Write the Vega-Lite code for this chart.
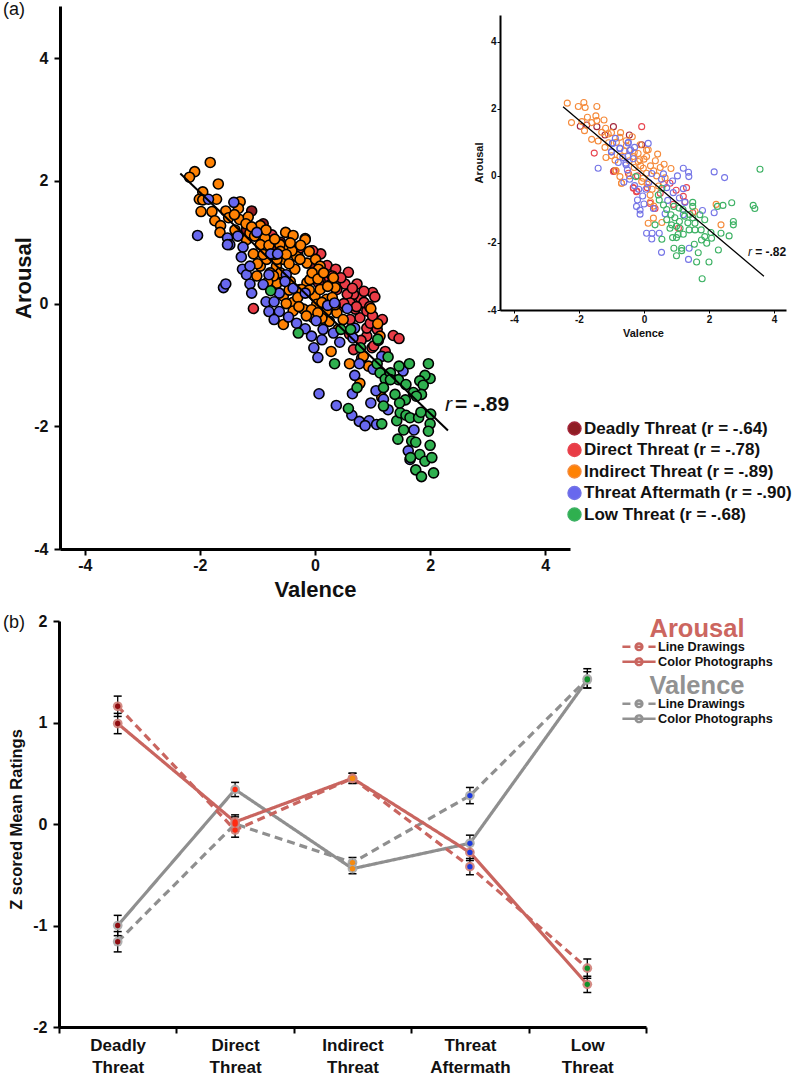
{"$schema":"https://vega.github.io/schema/vega-lite/v6.json","width":800,"height":1080,"padding":0,"autosize":{"type":"none"},"background":"white",
"config":{"view":{"stroke":null},"font":"Liberation Sans","axis":{"grid":false,"domainColor":"black","tickColor":"black","labelColor":"#111","titleColor":"#111","labelFontWeight":"bold","titleFontWeight":"bold","labelFont":"Liberation Sans","titleFont":"Liberation Sans"},"legend":{"labelFont":"Liberation Sans","titleFont":"Liberation Sans"}},
"datasets":{
"main":[
{"threat":"Deadly","x":-1.1,"y":1.51},{"threat":"Deadly","x":-1.19,"y":1.2},{"threat":"Deadly","x":-0.9,"y":1.3},{"threat":"Deadly","x":-0.6,"y":1.0},{"threat":"Deadly","x":-0.3,"y":0.8},{"threat":"Deadly","x":0,"y":0.6},{"threat":"Deadly","x":0.3,"y":0.3},{"threat":"Deadly","x":-0.7,"y":0.9},
{"threat":"Direct","x":0.58,"y":0.51},{"threat":"Direct","x":0.73,"y":0.32},{"threat":"Direct","x":0.21,"y":0.62},{"threat":"Direct","x":0.36,"y":0.56},{"threat":"Direct","x":0.1,"y":0.81},{"threat":"Direct","x":-0.06,"y":0.86},{"threat":"Direct","x":-0.26,"y":0.91},{"threat":"Direct","x":0.52,"y":0.32},{"threat":"Direct","x":1.0,"y":0.18},{"threat":"Direct","x":1.04,"y":0.11},{"threat":"Direct","x":0.79,"y":0.09},{"threat":"Direct","x":0.67,"y":0.15},{"threat":"Direct","x":0.56,"y":0.15},{"threat":"Direct","x":0.61,"y":0.01},{"threat":"Direct","x":0.78,"y":-0.23},{"threat":"Direct","x":0.61,"y":-0.26},{"threat":"Direct","x":1.17,"y":-0.26},{"threat":"Direct","x":1.36,"y":-0.52},{"threat":"Direct","x":1.46,"y":-0.57},{"threat":"Direct","x":0.9,"y":-0.53},{"threat":"Direct","x":0.99,"y":-0.72},{"threat":"Direct","x":0.67,"y":-0.75},{"threat":"Direct","x":0.81,"y":-0.89},{"threat":"Direct","x":1.22,"y":-0.78},{"threat":"Direct","x":0.9,"y":-0.4},{"threat":"Direct","x":0.17,"y":0.44},{"threat":"Direct","x":0.09,"y":0.36},{"threat":"Direct","x":0.38,"y":0.23},{"threat":"Direct","x":0.46,"y":-0.04},{"threat":"Direct","x":0.9,"y":-0.12},{"threat":"Direct","x":0.7,"y":-0.09},{"threat":"Direct","x":1.02,"y":-0.69},{"threat":"Direct","x":0.96,"y":-0.32},{"threat":"Direct","x":-0.75,"y":1.12},{"threat":"Direct","x":-0.26,"y":0.91},{"threat":"Direct","x":-0.04,"y":0.86},{"threat":"Direct","x":-1.07,"y":-0.08},{"threat":"Direct","x":0.06,"y":0.34},{"threat":"Direct","x":0.3,"y":0.45},{"threat":"Direct","x":0.45,"y":0.42},{"threat":"Direct","x":0.65,"y":0.25},{"threat":"Direct","x":0.85,"y":0.02},{"threat":"Direct","x":0.95,"y":-0.05},{"threat":"Direct","x":1.0,"y":-0.2},{"threat":"Direct","x":1.08,"y":-0.42},{"threat":"Direct","x":1.1,"y":-0.6},{"threat":"Direct","x":0.8,"y":-0.6},{"threat":"Direct","x":0.6,"y":-0.5},{"threat":"Direct","x":0.5,"y":0.0},{"threat":"Direct","x":0.72,"y":-0.05},{"threat":"Direct","x":0.85,"y":0.2},
{"threat":"Indirect","x":-1.82,"y":2.3},{"threat":"Indirect","x":-2.09,"y":2.15},{"threat":"Indirect","x":-2.18,"y":2.06},{"threat":"Indirect","x":-1.68,"y":1.95},{"threat":"Indirect","x":-1.95,"y":1.82},{"threat":"Indirect","x":-2.01,"y":1.7},{"threat":"Indirect","x":-1.95,"y":1.69},{"threat":"Indirect","x":-1.71,"y":1.7},{"threat":"Indirect","x":-1.98,"y":1.5},{"threat":"Indirect","x":-1.79,"y":1.5},{"threat":"Indirect","x":-1.55,"y":1.51},{"threat":"Indirect","x":-1.3,"y":1.66},{"threat":"Indirect","x":-1.33,"y":1.55},{"threat":"Indirect","x":-1.31,"y":1.37},{"threat":"Indirect","x":-1.74,"y":1.35},{"threat":"Indirect","x":-1.64,"y":1.27},{"threat":"Indirect","x":-1.65,"y":1.16},{"threat":"Indirect","x":-1.16,"y":1.41},{"threat":"Indirect","x":-0.95,"y":1.27},{"threat":"Indirect","x":-1.39,"y":1.2},{"threat":"Indirect","x":-0.87,"y":1.07},{"threat":"Indirect","x":-0.51,"y":1.16},{"threat":"Indirect","x":-0.38,"y":1.11},{"threat":"Indirect","x":-0.17,"y":1.06},{"threat":"Indirect","x":-0.95,"y":0.96},{"threat":"Indirect","x":-1.07,"y":0.81},{"threat":"Indirect","x":-0.62,"y":0.97},{"threat":"Indirect","x":-0.41,"y":0.86},{"threat":"Indirect","x":-0.55,"y":0.72},{"threat":"Indirect","x":-0.35,"y":0.56},{"threat":"Indirect","x":-0.14,"y":0.66},{"threat":"Indirect","x":-0.95,"y":0.61},{"threat":"Indirect","x":0.01,"y":0.72},{"threat":"Indirect","x":-0.14,"y":0.34},{"threat":"Indirect","x":-0.38,"y":0.02},{"threat":"Indirect","x":-0.2,"y":-0.09},{"threat":"Indirect","x":0,"y":0.12},{"threat":"Indirect","x":0.03,"y":-0.01},{"threat":"Indirect","x":-0.67,"y":0.61},{"threat":"Indirect","x":-0.49,"y":0.93},{"threat":"Indirect","x":-0.84,"y":0.72},{"threat":"Indirect","x":-1.19,"y":1.04},{"threat":"Indirect","x":-1.01,"y":0.45},{"threat":"Indirect","x":-0.26,"y":0.23},{"threat":"Indirect","x":-0.09,"y":0.39},{"threat":"Indirect","x":0.09,"y":0.61},{"threat":"Indirect","x":-0.32,"y":0.77},{"threat":"Indirect","x":-0.78,"y":0.5},{"threat":"Indirect","x":-0.67,"y":0.34},{"threat":"Indirect","x":-1.13,"y":1.15},{"threat":"Indirect","x":-0.61,"y":0.96},{"threat":"Indirect","x":-0.4,"y":0.86},{"threat":"Indirect","x":0.06,"y":0.56},{"threat":"Indirect","x":0.32,"y":0.42},{"threat":"Indirect","x":0.35,"y":0.26},{"threat":"Indirect","x":0.2,"y":0.07},{"threat":"Indirect","x":0.38,"y":-0.15},{"threat":"Indirect","x":0.25,"y":-0.29},{"threat":"Indirect","x":-0.03,"y":-0.23},{"threat":"Indirect","x":0.97,"y":-0.08},{"threat":"Indirect","x":1.09,"y":-0.33},{"threat":"Indirect","x":0.28,"y":-0.78},{"threat":"Indirect","x":0.6,"y":-0.98},{"threat":"Indirect","x":0.93,"y":-1.02},{"threat":"Indirect","x":0.78,"y":-1.3},{"threat":"Indirect","x":1.16,"y":-1.53},{"threat":"Indirect","x":-0.55,"y":-0.34},{"threat":"Indirect","x":-0.43,"y":0.99},{"threat":"Indirect","x":-0.17,"y":1.04},{"threat":"Indirect","x":-0.26,"y":0.72},{"threat":"Indirect","x":0.09,"y":0.23},{"threat":"Indirect","x":0.49,"y":-0.26},{"threat":"Indirect","x":0.2,"y":-0.12},{"threat":"Indirect","x":1.13,"y":-0.53},{"threat":"Indirect","x":0.84,"y":-0.86},{"threat":"Indirect","x":-0.66,"y":0.33},{"threat":"Indirect","x":-0.43,"y":0.36},{"threat":"Indirect","x":-0.23,"y":0.23},{"threat":"Indirect","x":-0.55,"y":0.12},{"threat":"Indirect","x":-0.38,"y":-0.12},{"threat":"Indirect","x":-0.66,"y":0.72},{"threat":"Indirect","x":-0.06,"y":-0.1},{"threat":"Indirect","x":0.12,"y":-0.24},{"threat":"Indirect","x":-1.5,"y":1.4},{"threat":"Indirect","x":-1.4,"y":1.45},{"threat":"Indirect","x":-1.2,"y":1.3},{"threat":"Indirect","x":-1.1,"y":1.25},{"threat":"Indirect","x":-1.05,"y":1.1},{"threat":"Indirect","x":-0.85,"y":1.2},{"threat":"Indirect","x":-0.8,"y":0.95},{"threat":"Indirect","x":-0.7,"y":1.05},{"threat":"Indirect","x":-0.7,"y":0.8},{"threat":"Indirect","x":-0.6,"y":0.85},{"threat":"Indirect","x":-0.5,"y":0.8},{"threat":"Indirect","x":-0.45,"y":0.65},{"threat":"Indirect","x":-0.25,"y":0.95},{"threat":"Indirect","x":-0.1,"y":0.85},{"threat":"Indirect","x":-0.05,"y":0.5},{"threat":"Indirect","x":0.05,"y":0.4},{"threat":"Indirect","x":0.15,"y":0.5},{"threat":"Indirect","x":0.22,"y":0.28},{"threat":"Indirect","x":0.3,"y":0.1},{"threat":"Indirect","x":0.12,"y":0.02},{"threat":"Indirect","x":-0.1,"y":0.22},{"threat":"Indirect","x":-0.3,"y":0.1},{"threat":"Indirect","x":-0.45,"y":0.22},{"threat":"Indirect","x":-0.6,"y":0.5},{"threat":"Indirect","x":-0.9,"y":0.8},{"threat":"Indirect","x":-1.0,"y":0.65},{"threat":"Indirect","x":0.35,"y":-0.02},{"threat":"Indirect","x":-0.15,"y":-0.2},{"threat":"Indirect","x":-0.28,"y":-0.05},{"threat":"Indirect","x":0.05,"y":-0.15},{"threat":"Indirect","x":-0.5,"y":0},{"threat":"Indirect","x":-0.72,"y":0.45},{"threat":"Indirect","x":-0.82,"y":0.35},{"threat":"Indirect","x":0.4,"y":-0.42},
{"threat":"Aftermath","x":-1.85,"y":1.7},{"threat":"Aftermath","x":-1.41,"y":1.65},{"threat":"Aftermath","x":-2.04,"y":1.11},{"threat":"Aftermath","x":-1.52,"y":1.07},{"threat":"Aftermath","x":-1.48,"y":0.96},{"threat":"Aftermath","x":-1.52,"y":0.96},{"threat":"Aftermath","x":-1.34,"y":1.1},{"threat":"Aftermath","x":-1.01,"y":1.16},{"threat":"Aftermath","x":-1.25,"y":0.92},{"threat":"Aftermath","x":-1.28,"y":0.76},{"threat":"Aftermath","x":-0.77,"y":0.81},{"threat":"Aftermath","x":-0.65,"y":0.81},{"threat":"Aftermath","x":-1.26,"y":0.56},{"threat":"Aftermath","x":-1.19,"y":0.47},{"threat":"Aftermath","x":-1.13,"y":0.61},{"threat":"Aftermath","x":-0.8,"y":0.47},{"threat":"Aftermath","x":-0.5,"y":0.47},{"threat":"Aftermath","x":-0.52,"y":0.36},{"threat":"Aftermath","x":-1.13,"y":0.32},{"threat":"Aftermath","x":-1.59,"y":0.26},{"threat":"Aftermath","x":-1.55,"y":0.32},{"threat":"Aftermath","x":-0.9,"y":0.31},{"threat":"Aftermath","x":-0.38,"y":0.25},{"threat":"Aftermath","x":-0.17,"y":0.17},{"threat":"Aftermath","x":-1.1,"y":0.17},{"threat":"Aftermath","x":-0.62,"y":0.17},{"threat":"Aftermath","x":-0.85,"y":0.03},{"threat":"Aftermath","x":-0.71,"y":0.03},{"threat":"Aftermath","x":-0.8,"y":-0.13},{"threat":"Aftermath","x":-0.62,"y":-0.13},{"threat":"Aftermath","x":-0.46,"y":-0.22},{"threat":"Aftermath","x":-0.71,"y":-0.26},{"threat":"Aftermath","x":-0.32,"y":-0.32},{"threat":"Aftermath","x":-0.17,"y":-0.41},{"threat":"Aftermath","x":-0.06,"y":-0.53},{"threat":"Aftermath","x":0.12,"y":-0.59},{"threat":"Aftermath","x":0.14,"y":-0.42},{"threat":"Aftermath","x":0.32,"y":-0.48},{"threat":"Aftermath","x":0.43,"y":-0.63},{"threat":"Aftermath","x":0.02,"y":-0.28},{"threat":"Aftermath","x":0.22,"y":-0.03},{"threat":"Aftermath","x":0.34,"y":0.01},{"threat":"Aftermath","x":0.56,"y":-0.08},{"threat":"Aftermath","x":-0.02,"y":-0.72},{"threat":"Aftermath","x":0.05,"y":-0.88},{"threat":"Aftermath","x":0.77,"y":-0.98},{"threat":"Aftermath","x":0.69,"y":-1.17},{"threat":"Aftermath","x":0.65,"y":-1.47},{"threat":"Aftermath","x":0.07,"y":-1.47},{"threat":"Aftermath","x":0.37,"y":-1.66},{"threat":"Aftermath","x":0.64,"y":-1.82},{"threat":"Aftermath","x":0.77,"y":-1.92},{"threat":"Aftermath","x":0.94,"y":-1.91},{"threat":"Aftermath","x":0.87,"y":-1.99},{"threat":"Aftermath","x":1.07,"y":-1.97},{"threat":"Aftermath","x":0.97,"y":-1.62},{"threat":"Aftermath","x":1.06,"y":-1.42},{"threat":"Aftermath","x":1.27,"y":-1.73},{"threat":"Aftermath","x":1.72,"y":-2.06},{"threat":"Aftermath","x":1.62,"y":-2.4},{"threat":"Aftermath","x":1.65,"y":-2.54},{"threat":"Aftermath","x":1.16,"y":-0.86},{"threat":"Aftermath","x":1.01,"y":-1.07},{"threat":"Aftermath","x":1.53,"y":-1.1},{"threat":"Aftermath","x":0.69,"y":-0.4},{"threat":"Aftermath","x":0.66,"y":-0.56},{"threat":"Aftermath","x":1.19,"y":-1.56},
{"threat":"Low","x":-0.77,"y":0.21},{"threat":"Low","x":-0.29,"y":-0.48},{"threat":"Low","x":0.45,"y":-0.42},{"threat":"Low","x":0.62,"y":-0.42},{"threat":"Low","x":1.09,"y":-0.58},{"threat":"Low","x":0.79,"y":-0.72},{"threat":"Low","x":0.34,"y":-0.98},{"threat":"Low","x":1.27,"y":-0.87},{"threat":"Low","x":1.08,"y":-0.98},{"threat":"Low","x":1.46,"y":-1.02},{"threat":"Low","x":1.64,"y":-0.98},{"threat":"Low","x":1.97,"y":-0.98},{"threat":"Low","x":1.13,"y":-1.13},{"threat":"Low","x":1.22,"y":-1.23},{"threat":"Low","x":1.31,"y":-1.13},{"threat":"Low","x":1.45,"y":-1.24},{"threat":"Low","x":1.58,"y":-1.32},{"threat":"Low","x":2.0,"y":-1.22},{"threat":"Low","x":1.91,"y":-1.17},{"threat":"Low","x":1.82,"y":-1.26},{"threat":"Low","x":1.88,"y":-1.33},{"threat":"Low","x":1.19,"y":-1.37},{"threat":"Low","x":1.39,"y":-1.48},{"threat":"Low","x":1.71,"y":-1.45},{"threat":"Low","x":1.85,"y":-1.48},{"threat":"Low","x":0.73,"y":-1.37},{"threat":"Low","x":1.57,"y":-1.57},{"threat":"Low","x":1.19,"y":-1.67},{"threat":"Low","x":0.58,"y":-1.71},{"threat":"Low","x":1.16,"y":-1.96},{"threat":"Low","x":1.42,"y":-1.91},{"threat":"Low","x":1.48,"y":-1.78},{"threat":"Low","x":1.58,"y":-1.82},{"threat":"Low","x":1.65,"y":-1.86},{"threat":"Low","x":1.8,"y":-1.86},{"threat":"Low","x":1.84,"y":-1.77},{"threat":"Low","x":2.01,"y":-1.8},{"threat":"Low","x":2.0,"y":-1.96},{"threat":"Low","x":1.97,"y":-2.08},{"threat":"Low","x":1.54,"y":-2.06},{"threat":"Low","x":1.44,"y":-2.21},{"threat":"Low","x":1.68,"y":-2.24},{"threat":"Low","x":1.75,"y":-2.26},{"threat":"Low","x":2.0,"y":-2.31},{"threat":"Low","x":1.82,"y":-2.46},{"threat":"Low","x":1.66,"y":-2.51},{"threat":"Low","x":1.91,"y":-2.57},{"threat":"Low","x":2.03,"y":-2.51},{"threat":"Low","x":1.75,"y":-2.71},{"threat":"Low","x":1.85,"y":-2.82},{"threat":"Low","x":2.06,"y":-2.76},{"threat":"Low","x":1.31,"y":-1.24},{"threat":"Low","x":1.76,"y":-1.51},{"threat":"Low","x":1.47,"y":-1.62}],
"inset":[
{"threat":"Deadly","x":-1.96,"y":1.48},{"threat":"Deadly","x":-1.45,"y":1.47},{"threat":"Deadly","x":-1.2,"y":1.22},{"threat":"Deadly","x":-0.94,"y":1.47},{"threat":"Deadly","x":-0.45,"y":1.22},{"threat":"Deadly","x":-0.07,"y":0.93},{"threat":"Deadly","x":-0.92,"y":0.15},{"threat":"Deadly","x":-1.76,"y":1.52},
{"threat":"Direct","x":-0.07,"y":1.47},{"threat":"Direct","x":-1.53,"y":0.68},{"threat":"Direct","x":-0.32,"y":-0.37},{"threat":"Direct","x":-0.22,"y":-0.45},{"threat":"Direct","x":-0.48,"y":0.08},{"threat":"Direct","x":1.31,"y":-0.35},{"threat":"Direct","x":0.99,"y":-0.43},{"threat":"Direct","x":1.21,"y":-0.61},{"threat":"Direct","x":-0.33,"y":-0.35},{"threat":"Direct","x":-0.23,"y":-0.47},{"threat":"Direct","x":0.19,"y":-0.82},{"threat":"Direct","x":0.34,"y":-0.97},{"threat":"Direct","x":1.06,"y":-1.56},{"threat":"Direct","x":-0.94,"y":0.13},{"threat":"Direct","x":1.26,"y":-0.77},{"threat":"Direct","x":0.5,"y":-0.52},{"threat":"Direct","x":0.8,"y":-0.22},{"threat":"Direct","x":0.6,"y":-0.25},{"threat":"Direct","x":0.9,"y":-0.85},{"threat":"Direct","x":0.1,"y":-0.35},{"threat":"Direct","x":1.5,"y":-1.1},{"threat":"Direct","x":-0.2,"y":0.0},
{"threat":"Indirect","x":-2.36,"y":2.17},{"threat":"Indirect","x":-2.02,"y":2.07},{"threat":"Indirect","x":-1.85,"y":2.19},{"threat":"Indirect","x":-1.81,"y":2.04},{"threat":"Indirect","x":-1.45,"y":2.07},{"threat":"Indirect","x":-2.23,"y":1.59},{"threat":"Indirect","x":-1.74,"y":1.75},{"threat":"Indirect","x":-1.48,"y":1.79},{"threat":"Indirect","x":-1.61,"y":1.59},{"threat":"Indirect","x":-1.91,"y":1.62},{"threat":"Indirect","x":-1.23,"y":1.67},{"threat":"Indirect","x":-1.45,"y":1.65},{"threat":"Indirect","x":-1.83,"y":1.35},{"threat":"Indirect","x":-1.18,"y":1.42},{"threat":"Indirect","x":-1.61,"y":1.09},{"threat":"Indirect","x":-1.41,"y":1.04},{"threat":"Indirect","x":-1.0,"y":1.29},{"threat":"Indirect","x":-0.72,"y":1.29},{"threat":"Indirect","x":-0.36,"y":1.17},{"threat":"Indirect","x":-1.17,"y":0.55},{"threat":"Indirect","x":-0.89,"y":0.47},{"threat":"Indirect","x":-0.86,"y":0.16},{"threat":"Indirect","x":-0.74,"y":-0.02},{"threat":"Indirect","x":-0.69,"y":-0.22},{"threat":"Indirect","x":-0.18,"y":0.43},{"threat":"Indirect","x":-0.02,"y":0.23},{"threat":"Indirect","x":0.08,"y":0.77},{"threat":"Indirect","x":-0.18,"y":0.67},{"threat":"Indirect","x":-1.2,"y":0.85},{"threat":"Indirect","x":-0.74,"y":1.15},{"threat":"Indirect","x":-1.09,"y":0.99},{"threat":"Indirect","x":-0.54,"y":0.9},{"threat":"Indirect","x":-0.13,"y":0.48},{"threat":"Indirect","x":0.08,"y":0.08},{"threat":"Indirect","x":-0.07,"y":-0.17},{"threat":"Indirect","x":0.42,"y":0.65},{"threat":"Indirect","x":0.62,"y":0.35},{"threat":"Indirect","x":0.83,"y":0.22},{"threat":"Indirect","x":-0.12,"y":0.93},{"threat":"Indirect","x":0.13,"y":0.78},{"threat":"Indirect","x":0.08,"y":0.58},{"threat":"Indirect","x":-0.33,"y":0.58},{"threat":"Indirect","x":-0.74,"y":0.58},{"threat":"Indirect","x":-0.87,"y":0.15},{"threat":"Indirect","x":-0.69,"y":-0.22},{"threat":"Indirect","x":0.13,"y":-1.41},{"threat":"Indirect","x":0.55,"y":-1.39},{"threat":"Indirect","x":0.29,"y":-1.26},{"threat":"Indirect","x":0.19,"y":-0.57},{"threat":"Indirect","x":0.2,"y":-0.77},{"threat":"Indirect","x":-0.02,"y":-0.07},{"threat":"Indirect","x":2.22,"y":-0.85},{"threat":"Indirect","x":2.37,"y":-1.46},{"threat":"Indirect","x":1.57,"y":-1.06},{"threat":"Indirect","x":0.39,"y":0},{"threat":"Indirect","x":0.65,"y":-0.06},{"threat":"Indirect","x":-1.3,"y":1.3},{"threat":"Indirect","x":-1.1,"y":1.25},{"threat":"Indirect","x":-0.85,"y":1.0},{"threat":"Indirect","x":-0.6,"y":0.75},{"threat":"Indirect","x":-0.45,"y":0.45},{"threat":"Indirect","x":-0.3,"y":0.7},{"threat":"Indirect","x":-0.1,"y":0.3},{"threat":"Indirect","x":0.2,"y":0.3},{"threat":"Indirect","x":0.3,"y":0.15},{"threat":"Indirect","x":0.1,"y":-0.25},{"threat":"Indirect","x":0.25,"y":-0.4},{"threat":"Indirect","x":-0.3,"y":0.25},{"threat":"Indirect","x":-0.45,"y":0.0},{"threat":"Indirect","x":-1.0,"y":0.6},{"threat":"Indirect","x":0.5,"y":0.25},{"threat":"Indirect","x":0.35,"y":0.45},{"threat":"Indirect","x":0.0,"y":0.5},{"threat":"Indirect","x":-0.55,"y":1.05},{"threat":"Indirect","x":0.3,"y":-0.9},{"threat":"Indirect","x":0.45,"y":-0.3},
{"threat":"Aftermath","x":-1.41,"y":0.23},{"threat":"Aftermath","x":-0.88,"y":1.12},{"threat":"Aftermath","x":-0.96,"y":0.97},{"threat":"Aftermath","x":-0.49,"y":0.98},{"threat":"Aftermath","x":0.13,"y":0.97},{"threat":"Aftermath","x":-0.29,"y":0.85},{"threat":"Aftermath","x":-0.44,"y":0.76},{"threat":"Aftermath","x":-0.74,"y":0.81},{"threat":"Aftermath","x":-1.0,"y":0.71},{"threat":"Aftermath","x":-0.33,"y":0.51},{"threat":"Aftermath","x":-0.49,"y":0.58},{"threat":"Aftermath","x":-0.79,"y":0.4},{"threat":"Aftermath","x":-0.55,"y":0.33},{"threat":"Aftermath","x":-0.51,"y":0.18},{"threat":"Aftermath","x":-0.62,"y":-0.19},{"threat":"Aftermath","x":-0.44,"y":-0.1},{"threat":"Aftermath","x":-0.29,"y":-0.29},{"threat":"Aftermath","x":-0.16,"y":-0.4},{"threat":"Aftermath","x":0.06,"y":-0.4},{"threat":"Aftermath","x":-0.04,"y":-0.6},{"threat":"Aftermath","x":-0.2,"y":-0.72},{"threat":"Aftermath","x":0,"y":-0.84},{"threat":"Aftermath","x":-0.23,"y":-0.91},{"threat":"Aftermath","x":-0.12,"y":-1.02},{"threat":"Aftermath","x":-0.12,"y":-1.14},{"threat":"Aftermath","x":-0.97,"y":0.98},{"threat":"Aftermath","x":-0.48,"y":1.0},{"threat":"Aftermath","x":-0.74,"y":0.83},{"threat":"Aftermath","x":-0.41,"y":0.78},{"threat":"Aftermath","x":-1.0,"y":0.73},{"threat":"Aftermath","x":-0.56,"y":0.38},{"threat":"Aftermath","x":0.29,"y":-0.97},{"threat":"Aftermath","x":0.6,"y":0.06},{"threat":"Aftermath","x":0.24,"y":0.07},{"threat":"Aftermath","x":0.54,"y":-0.1},{"threat":"Aftermath","x":0.88,"y":-0.15},{"threat":"Aftermath","x":1.03,"y":0},{"threat":"Aftermath","x":1.21,"y":0.23},{"threat":"Aftermath","x":1.37,"y":0.11},{"threat":"Aftermath","x":1.38,"y":-0.02},{"threat":"Aftermath","x":2.16,"y":0.12},{"threat":"Aftermath","x":2.48,"y":-0.05},{"threat":"Aftermath","x":1.21,"y":-0.38},{"threat":"Aftermath","x":1.09,"y":-0.66},{"threat":"Aftermath","x":1.26,"y":-0.79},{"threat":"Aftermath","x":0.73,"y":-0.73},{"threat":"Aftermath","x":1.8,"y":-1.03},{"threat":"Aftermath","x":2.16,"y":-1.1},{"threat":"Aftermath","x":1.21,"y":-1.16},{"threat":"Aftermath","x":0.65,"y":-1.13},{"threat":"Aftermath","x":0.08,"y":-1.71},{"threat":"Aftermath","x":0.25,"y":-1.71},{"threat":"Aftermath","x":0.24,"y":-1.88},{"threat":"Aftermath","x":0.47,"y":-1.71},{"threat":"Aftermath","x":0.54,"y":-2.28},{"threat":"Aftermath","x":1.39,"y":-2.16},{"threat":"Aftermath","x":1.37,"y":-2.49},{"threat":"Aftermath","x":0.15,"y":-0.2},{"threat":"Aftermath","x":0.7,"y":-0.35},{"threat":"Aftermath","x":0.9,"y":-0.5},{"threat":"Aftermath","x":-0.65,"y":0.55},
{"threat":"Low","x":-0.25,"y":-0.02},{"threat":"Low","x":3.57,"y":0.2},{"threat":"Low","x":2.7,"y":-0.8},{"threat":"Low","x":2.43,"y":-0.88},{"threat":"Low","x":2.26,"y":-0.91},{"threat":"Low","x":3.36,"y":-0.88},{"threat":"Low","x":3.41,"y":-0.97},{"threat":"Low","x":2.75,"y":-1.36},{"threat":"Low","x":2.75,"y":-1.46},{"threat":"Low","x":1.5,"y":-0.79},{"threat":"Low","x":1.5,"y":-0.91},{"threat":"Low","x":0.92,"y":-0.91},{"threat":"Low","x":1.08,"y":-0.96},{"threat":"Low","x":0.44,"y":-0.57},{"threat":"Low","x":0.55,"y":-0.37},{"threat":"Low","x":0.47,"y":-0.72},{"threat":"Low","x":0.6,"y":-0.87},{"threat":"Low","x":0.83,"y":-1.16},{"threat":"Low","x":0.7,"y":-1.31},{"threat":"Low","x":1.09,"y":-1.36},{"threat":"Low","x":1.72,"y":-1.16},{"threat":"Low","x":1.87,"y":-1.31},{"threat":"Low","x":1.57,"y":-1.41},{"threat":"Low","x":1.39,"y":-1.61},{"threat":"Low","x":1.11,"y":-1.56},{"threat":"Low","x":0.8,"y":-1.56},{"threat":"Low","x":0.85,"y":-1.46},{"threat":"Low","x":1.57,"y":-1.61},{"threat":"Low","x":1.76,"y":-1.61},{"threat":"Low","x":2.06,"y":-1.69},{"threat":"Low","x":2.37,"y":-1.71},{"threat":"Low","x":2.62,"y":-1.79},{"threat":"Low","x":1.87,"y":-1.81},{"threat":"Low","x":2.08,"y":-1.86},{"threat":"Low","x":1.77,"y":-1.91},{"threat":"Low","x":1.93,"y":-2.01},{"threat":"Low","x":0.88,"y":-1.84},{"threat":"Low","x":1.0,"y":-1.84},{"threat":"Low","x":0.55,"y":-1.89},{"threat":"Low","x":1.55,"y":-2.04},{"threat":"Low","x":1.21,"y":-1.74},{"threat":"Low","x":0.92,"y":-2.16},{"threat":"Low","x":1.16,"y":-2.16},{"threat":"Low","x":1.16,"y":-2.23},{"threat":"Low","x":1.0,"y":-2.38},{"threat":"Low","x":1.67,"y":-2.29},{"threat":"Low","x":2.29,"y":-2.21},{"threat":"Low","x":1.62,"y":-2.57},{"threat":"Low","x":2.0,"y":-2.57},{"threat":"Low","x":1.79,"y":-3.07},{"threat":"Low","x":0.34,"y":-1.46},{"threat":"Low","x":1.25,"y":-1.2},{"threat":"Low","x":1.4,"y":-1.15},{"threat":"Low","x":0.95,"y":-1.25},{"threat":"Low","x":1.0,"y":-1.5},{"threat":"Low","x":0.7,"y":-1.0},{"threat":"Low","x":1.2,"y":-1.0},{"threat":"Low","x":1.5,"y":-1.25},{"threat":"Low","x":1.35,"y":-1.4},{"threat":"Low","x":1.05,"y":-1.75}],
"means":[
{"threat":"Deadly Threat","measure":"Valence","format":"Line Drawings","mean":-1.16,"lo":-1.26,"hi":-1.06},{"threat":"Deadly Threat","measure":"Valence","format":"Color Photographs","mean":-1.0,"lo":-1.1,"hi":-0.9},{"threat":"Direct Threat","measure":"Valence","format":"Line Drawings","mean":0.0,"lo":-0.07,"hi":0.07},{"threat":"Direct Threat","measure":"Valence","format":"Color Photographs","mean":0.34,"lo":0.27,"hi":0.41},{"threat":"Indirect Threat","measure":"Valence","format":"Line Drawings","mean":-0.38,"lo":-0.43,"hi":-0.33},{"threat":"Indirect Threat","measure":"Valence","format":"Color Photographs","mean":-0.44,"lo":-0.49,"hi":-0.39},{"threat":"Threat Aftermath","measure":"Valence","format":"Line Drawings","mean":0.28,"lo":0.2,"hi":0.36},{"threat":"Threat Aftermath","measure":"Valence","format":"Color Photographs","mean":-0.19,"lo":-0.27,"hi":-0.11},{"threat":"Low Threat","measure":"Valence","format":"Line Drawings","mean":1.43,"lo":1.34,"hi":1.53},{"threat":"Low Threat","measure":"Valence","format":"Color Photographs","mean":1.42,"lo":1.34,"hi":1.5},
{"threat":"Deadly Threat","measure":"Arousal","format":"Line Drawings","mean":1.16,"lo":1.06,"hi":1.26},{"threat":"Deadly Threat","measure":"Arousal","format":"Color Photographs","mean":0.99,"lo":0.89,"hi":1.09},{"threat":"Direct Threat","measure":"Arousal","format":"Line Drawings","mean":-0.06,"lo":-0.13,"hi":0.01},{"threat":"Direct Threat","measure":"Arousal","format":"Color Photographs","mean":0.02,"lo":-0.05,"hi":0.09},{"threat":"Indirect Threat","measure":"Arousal","format":"Line Drawings","mean":0.45,"lo":0.4,"hi":0.5},{"threat":"Indirect Threat","measure":"Arousal","format":"Color Photographs","mean":0.45,"lo":0.4,"hi":0.5},{"threat":"Threat Aftermath","measure":"Arousal","format":"Line Drawings","mean":-0.42,"lo":-0.5,"hi":-0.34},{"threat":"Threat Aftermath","measure":"Arousal","format":"Color Photographs","mean":-0.28,"lo":-0.36,"hi":-0.2},{"threat":"Low Threat","measure":"Arousal","format":"Line Drawings","mean":-1.42,"lo":-1.52,"hi":-1.33},{"threat":"Low Threat","measure":"Arousal","format":"Color Photographs","mean":-1.58,"lo":-1.66,"hi":-1.5}]
},
"layer":[
{"encoding":{
"x":{"field":"x","type":"quantitative","scale":{"domain":[-4.43,4.43],"range":[60,570],"nice":false,"zero":false},"axis":{"orient":"bottom","values":[-4,-2,0,2,4],"labelExpr":"''+datum.value","offset":-531,"domainWidth":3,"tickWidth":2,"tickSize":6,"labelFontSize":16,"labelPadding":2,"title":"Valence","titleFontSize":22,"titlePadding":6}},
"y":{"field":"y","type":"quantitative","scale":{"domain":[-4,4.85],"range":[549,6],"nice":false,"zero":false},"axis":{"orient":"left","values":[-4,-2,0,2,4],"labelExpr":"''+datum.value","offset":-60,"domainWidth":3,"tickWidth":2,"tickSize":6,"labelFontSize":16,"labelPadding":6,"title":"Arousal","titleFontSize":22,"titlePadding":-2}}},
"layer":[
{"data":{"name":"main"},"mark":{"type":"point","filled":true,"opacity":1,"stroke":"black","strokeWidth":1.6,"size":100},"encoding":{"fill":{"field":"threat","type":"nominal","scale":{"domain":["Deadly","Direct","Indirect","Aftermath","Low"],"range":["#8f1d24","#e93c46","#ff8204","#6868ee","#2fb04f"]},"legend":{"orient":"none","legendX":566,"legendY":420,"title":null,"symbolType":"circle","symbolSize":170,"symbolStrokeColor":"black","symbolStrokeWidth":1.4,"symbolOpacity":1,"labelFontSize":17,"labelFontWeight":"bold","labelColor":"#111","labelLimit":260,"labelOffset":1,"clipHeight":17,"rowPadding":3.5,"labelExpr":"{'Deadly':'Deadly Threat (r = -.64)','Direct':'Direct Threat (r = -.78)','Indirect':'Indirect Threat (r = -.89)','Aftermath':'Threat Aftermath (r = -.90)','Low':'Low Threat (r = -.68)'}[datum.label]"}}}},
{"data":{"values":[{"x":-2.34,"y":2.12},{"x":2.31,"y":-2.07}]},"mark":{"type":"line","color":"black","strokeWidth":2}},
{"data":{"values":[{"label":"r","x":2.26,"y":-1.65}]},"mark":{"type":"text","align":"left","fontSize":21,"fontStyle":"italic","font":"Liberation Sans","color":"#111"},"encoding":{"text":{"field":"label"}}},
{"data":{"values":[{"label":"= -.89","x":2.43,"y":-1.65}]},"mark":{"type":"text","align":"left","fontSize":21,"fontWeight":"bold","font":"Liberation Sans","color":"#111"},"encoding":{"text":{"field":"label"}}},
{"data":{"values":[{"label":"(a)","x":-5.42,"y":4.78},{"label":"(b)","x":-5.42,"y":-5.2}]},"mark":{"type":"text","align":"left","fontSize":18,"font":"Liberation Sans","color":"#111"},"encoding":{"text":{"field":"label"}}}
]},
{"encoding":{
"x":{"field":"x","type":"quantitative","scale":{"domain":[-4.43,4.37],"range":[500,786],"nice":false,"zero":false},"axis":{"orient":"bottom","values":[-4,-2,0,2,4],"labelExpr":"''+datum.value","offset":-770,"domainWidth":2,"tickWidth":1,"tickSize":3,"labelFontSize":10,"labelPadding":1,"title":"Valence","titleFontSize":11,"titlePadding":3}},
"y":{"field":"y","type":"quantitative","scale":{"domain":[-4,4.8],"range":[310,15],"nice":false,"zero":false},"axis":{"orient":"left","values":[-4,-2,0,2,4],"labelExpr":"''+datum.value","offset":-500,"domainWidth":2,"tickWidth":1,"tickSize":3,"labelFontSize":10,"labelPadding":1,"title":"Arousal","titleFontSize":11,"titlePadding":3}}},
"layer":[
{"data":{"name":"inset"},"mark":{"type":"point","filled":false,"opacity":1,"strokeWidth":1.1,"size":36},"encoding":{"stroke":{"field":"threat","type":"nominal","scale":{"domain":["Deadly","Direct","Indirect","Aftermath","Low"],"range":["#a3263a","#e8454f","#f58a3a","#7474e6","#3cb163"]},"legend":null}}},
{"data":{"values":[{"x":-2.49,"y":2.06},{"x":3.69,"y":-2.99}]},"mark":{"type":"line","color":"black","strokeWidth":1.3}},
{"data":{"values":[{"label":"r","x":3.2,"y":-2.27}]},"mark":{"type":"text","align":"left","fontSize":12,"fontStyle":"italic","font":"Liberation Sans","color":"#111"},"encoding":{"text":{"field":"label"}}},
{"data":{"values":[{"label":"= -.82","x":3.42,"y":-2.27}]},"mark":{"type":"text","align":"left","fontSize":12,"fontWeight":"bold","font":"Liberation Sans","color":"#111"},"encoding":{"text":{"field":"label"}}}
]},
{"data":{"name":"means"},"resolve":{"scale":{"strokeDash":"independent"}},"encoding":{
"x":{"field":"threat","type":"nominal","sort":null,"scale":{"type":"band","domain":["Deadly Threat","Direct Threat","Indirect Threat","Threat Aftermath","Low Threat"],"range":[59,646],"paddingInner":0,"paddingOuter":0},"axis":{"orient":"bottom","title":null,"offset":-53,"domainWidth":3,"tickWidth":2,"tickSize":6,"tickBand":"extent","labelAngle":0,"labelFontSize":17,"labelLineHeight":22,"labelPadding":4,"labelExpr":"split(datum.label,' ')"}},
"y":{"field":"mean","type":"quantitative","scale":{"domain":[-2,2],"range":[1027,621],"nice":false,"zero":false},"axis":{"orient":"left","values":[-2,-1,0,1,2],"labelExpr":"''+datum.value","offset":-59,"domainWidth":3,"tickWidth":2,"tickSize":6,"labelFontSize":16,"labelPadding":6,"title":"Z scored Mean Ratings","titleFontSize":16.5,"titlePadding":8,"titleY":819}}},
"layer":[
{"transform":[{"filter":"datum.measure==='Valence'"}],"mark":{"type":"line","color":"#8f8f8f","strokeWidth":3.2},"encoding":{"strokeDash":{"field":"format","type":"nominal","scale":{"domain":["Line Drawings","Color Photographs"],"range":[[8,5],[1,0]]},"legend":{"orient":"none","legendX":621,"legendY":674,"title":"Valence","titleColor":"#929292","titleFontSize":25.5,"titleFontWeight":"bold","titleAnchor":"middle","titlePadding":-3,"symbolType":"M-1,0H1M0.2,0A0.2,0.2 0 0 1 0,0.2M0,0.2A0.2,0.2 0 0 1 -0.2,0M-0.2,0A0.2,0.2 0 0 1 0,-0.2M0,-0.2A0.2,0.2 0 0 1 0.2,0","symbolSize":1100,"symbolStrokeColor":"#929292","symbolStrokeWidth":2.6,"symbolFillColor":"#ffffff","labelFontSize":12.7,"labelFontWeight":"bold","labelColor":"#111","labelLimit":200,"labelOffset":1,"clipHeight":14.5,"rowPadding":0}}}},
{"transform":[{"filter":"datum.measure==='Arousal'"}],"mark":{"type":"line","color":"#c9655f","strokeWidth":3.2},"encoding":{"strokeDash":{"field":"format","type":"nominal","scale":{"domain":["Line Drawings","Color Photographs"],"range":[[8,5],[1,0]]},"legend":{"orient":"none","legendX":621,"legendY":617,"title":"Arousal","titleColor":"#cc6660","titleFontSize":25.5,"titleFontWeight":"bold","titleAnchor":"middle","titlePadding":-3,"symbolType":"M-1,0H1M0.2,0A0.2,0.2 0 0 1 0,0.2M0,0.2A0.2,0.2 0 0 1 -0.2,0M-0.2,0A0.2,0.2 0 0 1 0,-0.2M0,-0.2A0.2,0.2 0 0 1 0.2,0","symbolSize":1100,"symbolStrokeColor":"#c9655f","symbolStrokeWidth":2.6,"symbolFillColor":"#ffffff","labelFontSize":12.7,"labelFontWeight":"bold","labelColor":"#111","labelLimit":200,"labelOffset":1,"clipHeight":14.5,"rowPadding":0}}}},
{"mark":{"type":"rule","color":"black","strokeWidth":1.3},"encoding":{"y":{"field":"lo","type":"quantitative"},"y2":{"field":"hi"}}},
{"mark":{"type":"tick","orient":"horizontal","color":"black","size":8,"thickness":1.5,"opacity":1},"encoding":{"y":{"field":"lo","type":"quantitative"}}},
{"mark":{"type":"tick","orient":"horizontal","color":"black","size":8,"thickness":1.5,"opacity":1},"encoding":{"y":{"field":"hi","type":"quantitative"}}},
{"transform":[{"filter":"datum.measure==='Valence'"}],"mark":{"type":"point","filled":true,"color":"#a8a8a8","size":95,"opacity":0.9}},
{"transform":[{"filter":"datum.measure==='Arousal'"}],"mark":{"type":"point","filled":true,"color":"#cf8078","size":95,"opacity":0.9}},
{"mark":{"type":"point","filled":true,"size":28,"opacity":1},"encoding":{"color":{"field":"threat","type":"nominal","scale":{"domain":["Deadly Threat","Direct Threat","Indirect Threat","Threat Aftermath","Low Threat"],"range":["#8f0c10","#ff2a10","#f58a10","#1a38e0","#0f9228"]},"legend":null}}}
]}
],
"resolve":{"scale":{"x":"independent","y":"independent"},"axis":{"x":"independent","y":"independent"}}}
